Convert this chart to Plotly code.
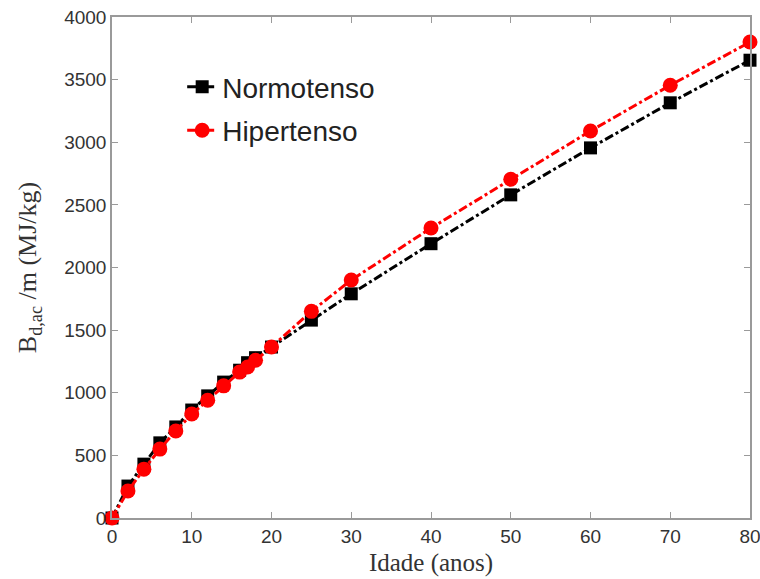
import plotly.graph_objects as go

idade = [0, 2, 4, 6, 8, 10, 12, 14, 16, 17, 18, 20, 25, 30, 40, 50, 60, 70, 80]
normotenso = [0, 255, 430, 600, 727, 862, 975, 1085, 1180, 1240, 1280, 1365, 1580, 1790, 2190, 2580, 2955, 3315, 3655]
hipertenso = [0, 215, 390, 550, 695, 830, 940, 1055, 1165, 1205, 1260, 1365, 1650, 1900, 2315, 2705, 3090, 3455, 3800]

x_ticks = [0, 10, 20, 30, 40, 50, 60, 70, 80]
y_ticks = [0, 500, 1000, 1500, 2000, 2500, 3000, 3500, 4000]

fig = go.Figure()
fig.add_trace(go.Scatter(
    x=idade, y=normotenso, name="Normotenso", mode="lines+markers",
    line=dict(color="black", width=3, dash="dashdot"),
    marker=dict(symbol="square", size=13, color="black"),
    cliponaxis=False, legendgroup="a",
))
fig.add_trace(go.Scatter(
    x=idade, y=hipertenso, name="Hipertenso", mode="lines+markers",
    line=dict(color="#ff0000", width=3, dash="dashdot"),
    marker=dict(symbol="circle", size=15, color="#ff0000"),
    cliponaxis=False, legendgroup="b",
))

axis_common = dict(
    showgrid=False, zeroline=False, showline=True, linecolor="#9a9a9a", linewidth=1.5,
    mirror="ticks", ticks="inside", ticklen=6, tickcolor="#9a9a9a",
    tickfont=dict(family="Liberation Sans, Arial", size=19, color="#333333"),
    automargin=False, ticklabeloverflow="allow",
)

fig.update_layout(
    width=760, height=579,
    margin=dict(l=112, r=10, t=17, b=61, autoexpand=False),
    paper_bgcolor="white", plot_bgcolor="white",
    xaxis=dict(range=[0, 80], tickvals=x_ticks,
               title=dict(text="Idade (anos)", font=dict(family="Liberation Serif, Times New Roman", size=25, color="#333333"), standoff=8),
               **axis_common),
    yaxis=dict(range=[0, 4000], tickvals=y_ticks,
               title=dict(text="B<sub>d,ac</sub> /m (MJ/kg)", font=dict(family="Liberation Serif, Times New Roman", size=26, color="#333333"), standoff=20),
               **axis_common),
    legend=dict(x=0.11, y=0.91, xanchor="left", yanchor="top",
                font=dict(family="Liberation Sans, Arial", size=28, color="#222222"),
                bgcolor="rgba(255,255,255,0)", borderwidth=0, tracegroupgap=4,
                traceorder="grouped"),
    showlegend=True,
)

fig.write_html("out.html")
